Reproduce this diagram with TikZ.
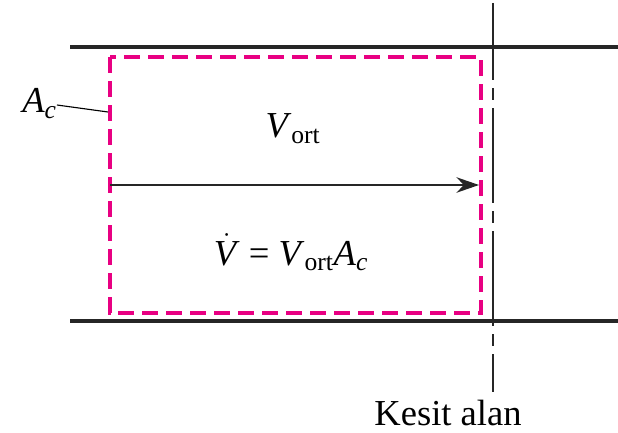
\documentclass[tikz,border=0pt]{standalone}
\usepackage{fontspec}
\setmainfont{Liberation Serif}
\usetikzlibrary{arrows.meta}
\definecolor{cvmagenta}{RGB}{232,0,130}

\begin{document}
\begin{tikzpicture}[x=0.025cm, y=-0.025cm, >={Stealth[length=16pt,width=11pt]},
  every node/.style={font=\fontsize{26}{30}\selectfont, inner sep=0pt}]
  \useasboundingbox (0,0) rectangle (618,433);

  % Pipe walls
  \coordinate (TL) at (70,47);
  \coordinate (TR) at (618,47);
  \coordinate (BL) at (70,321);
  \coordinate (BR) at (618,321);
  \draw[line width=2.6pt, black!85] (TL) -- (TR);
  \draw[line width=2.6pt, black!85] (BL) -- (BR);

  % Control volume
  \coordinate (CA) at (110,57);
  \coordinate (CB) at (481,313);
  \draw[cvmagenta, line width=2.4pt, dash pattern=on 0.4cm off 0.2cm] (CA) rectangle (CB);

  % Cross section
  \coordinate (S1) at (493,3);
  \coordinate (S2) at (493,392);
  \draw[line width=1.2pt, black!85, dash pattern=on 2.375cm off 0.2cm on 0.3cm off 0.2cm,
        dash phase=0.45cm] (S1) -- (S2);

  % Velocity
  \coordinate (P) at (110,185);
  \coordinate (Q) at (479,185);
  \draw[->, line width=1.3pt, black!85] (P) -- (Q);

  % Labels
  \node[anchor=base] (vort) at (293,138) {\textit{V}\textsubscript{ort}};
  \node[anchor=base] (flow) at (291,265)
    {$\dot{\hbox{\textit{V}}}$ = \textit{V}\textsubscript{ort}\textit{A\textsubscript{c}}};
  \node[anchor=base] (kesit) at (448,425) {Kesit alan};
  \node[anchor=base west] (ac) at (22,113) {\textit{A\textsubscript{c}}};
  \coordinate (acend) at (108,112);
  \draw[line width=0.8pt] (ac.east |- 0,105) -- (acend);
\end{tikzpicture}
\end{document}
